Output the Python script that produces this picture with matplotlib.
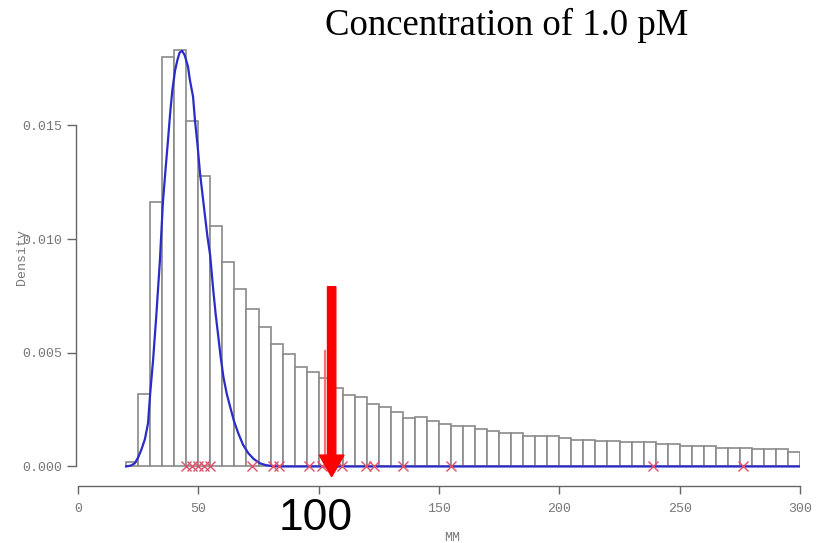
import numpy as np
import matplotlib
matplotlib.use('Agg')
import matplotlib.pyplot as plt

# histogram: left edges (width 5) and densities
bin_left = np.arange(20, 300, 5)
bin_width = 5
density = [0.0002, 0.0032, 0.01165, 0.0180, 0.0183, 0.0152, 0.01278, 0.01058,
           0.0090, 0.00779, 0.00691, 0.00612, 0.00539, 0.00493, 0.00439, 0.00415,
           0.0039, 0.00344, 0.00315, 0.00304, 0.00276, 0.00261, 0.0024, 0.00214,
           0.00217, 0.00202, 0.00188, 0.00177, 0.00177, 0.00166, 0.00154, 0.00148,
           0.00148, 0.00136, 0.00134, 0.00133, 0.00126, 0.00117, 0.00118, 0.0011,
           0.0011, 0.00107, 0.00106, 0.00106, 0.0010, 0.00097, 0.00088, 0.00089,
           0.00089, 0.00082, 0.00081, 0.00081, 0.00077, 0.00077, 0.00075, 0.00062]

# fitted curve, points
fit_x = [20.0, 22.0, 23.6, 25.0, 26.3, 27.8, 29.1, 30.0, 31.2, 32.5, 34.0, 35.3,
         36.4, 37.4, 38.3, 39.2, 40.3, 41.3, 42.2, 43.2, 44.3, 45.7, 46.5, 47.8,
         48.6, 49.7, 50.7, 51.8, 52.8, 53.8, 54.9, 56.2, 57.2, 58.3, 59.3, 60.4,
         61.8, 63.2, 64.8, 66.6, 68.6, 70.8, 73.0, 75.6, 78.0, 81.1, 85.0, 300.0]
fit_y = [0.0, 0.00004, 0.00014, 0.0004, 0.00073, 0.0012, 0.0019, 0.00322,
         0.00468, 0.00659, 0.0090, 0.01165, 0.0131, 0.01436, 0.01555, 0.01656,
         0.0174, 0.01788, 0.0182, 0.01829, 0.0181, 0.01759, 0.0170, 0.01627,
         0.01524, 0.0141, 0.0129, 0.0119, 0.01099, 0.0101, 0.0093, 0.00776,
         0.0067, 0.00571, 0.0048, 0.00395, 0.0032, 0.00263, 0.002, 0.00146,
         0.00095, 0.00058, 0.00033, 0.00014, 0.00006, 0.00001, 0.0, 0.0]

# red crosses on the baseline
obs_x = [45, 47.5, 50, 52.5, 55, 72.5, 81, 83.5, 96, 101.5, 109.5, 119.5, 123,
         135, 155, 239, 276.5]

marker_x, marker_h = 102.8, 0.00508
arrow_x, arrow_top, arrow_tip = 105.4, 0.00791, -0.00045

fig = plt.figure(figsize=(8.24, 5.43), dpi=100)
ax = fig.add_axes([78 / 824, (543 - 489.2) / 543, 722 / 824, 466 / 543])

ax.bar(bin_left, density, width=bin_width, align='edge', facecolor='white',
       edgecolor='#8a8a8a', linewidth=1.2)
ax.plot(fit_x, fit_y, color='#2b2bc8', lw=1.6, solid_joinstyle='round')
ax.plot(obs_x, np.zeros(len(obs_x)), 'x', color='#e0506a', ms=7, mew=1.0)
ax.plot([marker_x, marker_x], [0, marker_h], color='#ff7070', lw=1.6)

ax.arrow(arrow_x, arrow_top, 0, arrow_tip - arrow_top, width=3.45,
         head_width=10.3, head_length=0.00095, length_includes_head=True,
         color='#ff0000', clip_on=False, zorder=5)

ax.set_xlim(0, 300)
ax.set_ylim(-0.001, 0.0195)

# R style axes
for s in ['top', 'right']:
    ax.spines[s].set_visible(False)
ax.spines['bottom'].set_position(('data', -0.00086))
ax.spines['bottom'].set_bounds(0, 300)
ax.spines['left'].set_position(('data', -0.8))
ax.spines['left'].set_bounds(0, 0.015)
for s in ['bottom', 'left']:
    ax.spines[s].set_color('#666666')
    ax.spines[s].set_linewidth(1.0)

ax.set_xticks([0, 50, 100, 150, 200, 250, 300])
ax.set_yticks([0, 0.005, 0.010, 0.015])
ax.set_yticklabels(['0.000', '0.005', '0.010', '0.015'])
ax.tick_params(axis='x', direction='out', length=5.5, width=1.0, color='#666666',
               pad=7, labelsize=9.5, labelcolor='#777777')
ax.tick_params(axis='y', direction='out', length=6.5, width=1.0, color='#666666',
               pad=3.5, labelsize=9.5, labelcolor='#777777')
for lab in ax.get_xticklabels() + ax.get_yticklabels():
    lab.set_family('Liberation Mono')
ax.patch.set_visible(False)

fig.text(452 / 824, 1 - 538 / 543, 'MM', ha='center', va='center',
         fontsize=9.5, color='#777777', family='Liberation Mono')
fig.text(22 / 824, 1 - 257 / 543, 'Density', ha='center', va='center',
         rotation=90, fontsize=9.5, color='#777777', family='Liberation Mono')

fig.text(507 / 824, 1 - 35 / 543, 'Concentration of 1.0 pM', ha='center',
         va='baseline', fontsize=26.5, family='Liberation Serif', color='black')
# big label sits on top of the small "100" tick label
fig.text(316 / 824, 1 - 519 / 543, '100', ha='center', va='center',
         fontsize=32, family='Liberation Sans', color='black', zorder=10,
         bbox=dict(facecolor='white', edgecolor='none', pad=1))

fig.savefig('out.png', dpi=100)
